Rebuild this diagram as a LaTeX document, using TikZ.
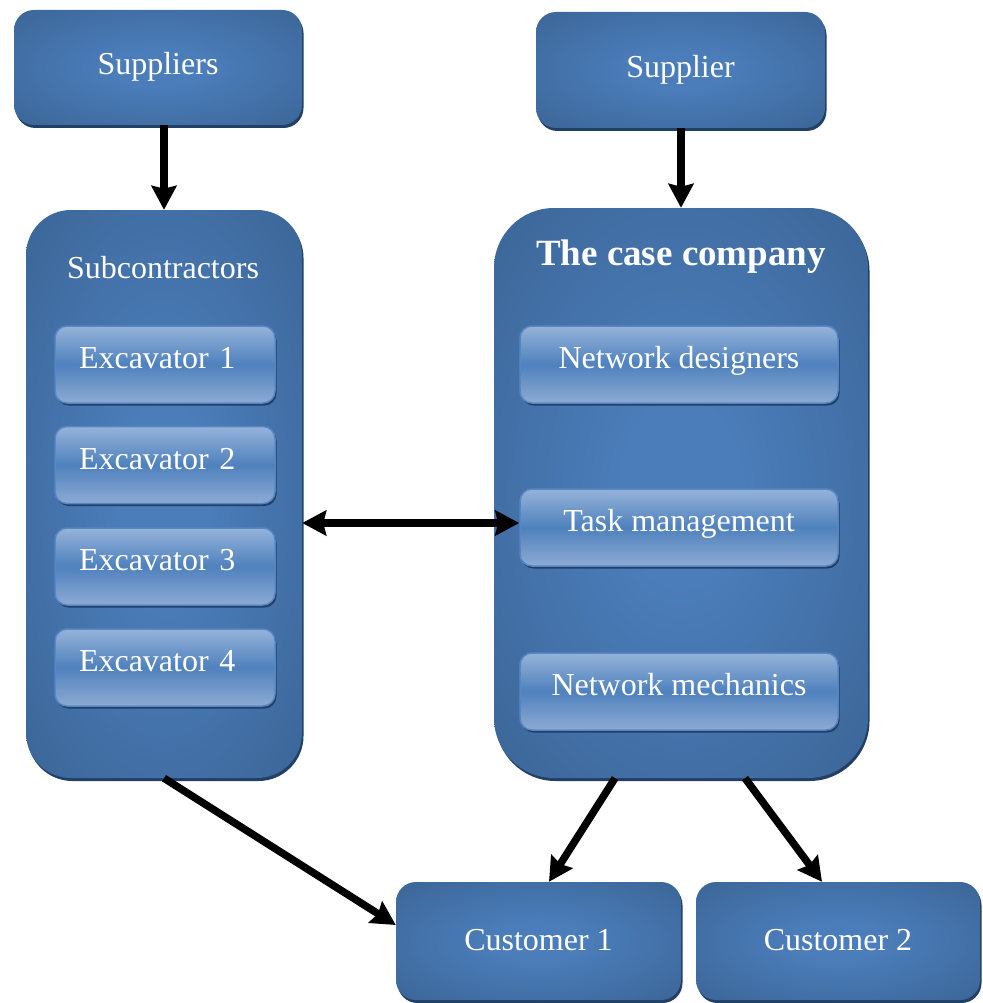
\documentclass[tikz,border=0pt]{standalone}
\usepackage{fontspec}
\setmainfont{Liberation Serif}
\usetikzlibrary{arrows.meta,shadows}

\definecolor{glowin}{HTML}{4B7DBA}
\definecolor{glowout}{HTML}{38608F}
\definecolor{boxshade}{HTML}{223F66}
\definecolor{tabtop}{HTML}{95B3DA}
\definecolor{tabmid}{HTML}{4F81BD}
\definecolor{tabbot}{HTML}{8DABD4}
\definecolor{tabedge}{HTML}{5687C4}

\pgfdeclareradialshading{boxglow}{\pgfpoint{0bp}{0bp}}{%
  color(0bp)=(glowin); color(8bp)=(glowin); color(42bp)=(glowout); color(50bp)=(glowout)}

\tikzset{
  unit/.style={rounded corners=#1, shading=boxglow, draw=none,
    drop shadow={shadow xshift=1.5pt, shadow yshift=-3pt, fill=boxshade, opacity=1},
    text=white, font=\fontsize{32}{38}\selectfont, inner sep=0pt,
    text height=22pt, text depth=7pt},
  unit/.default=20pt,
  tab/.style={rounded corners=12pt, top color=tabtop, bottom color=tabbot, middle color=tabmid,
    draw=tabedge, line width=1.5pt,
    drop shadow={shadow xshift=1.5pt, shadow yshift=-2.5pt, fill=boxshade, opacity=1},
    text=white, font=\fontsize{32}{38}\selectfont, inner sep=0pt,
    text height=18pt, text depth=10pt, minimum height=77pt},
  title/.style={text=white, inner sep=0pt},
  tip/.tip={Stealth[length=24pt, width=25pt, inset=3pt]},
  flow/.style={line width=7.5pt, -tip},
  both/.style={line width=7.5pt, tip-tip}
}

\begin{document}
\begin{tikzpicture}[x=1pt, y=-1pt]
\useasboundingbox (0,0) rectangle (982,1003);

% top row
\node[unit, minimum width=288pt, minimum height=115pt] (suppliers) at (158,67.5) {Suppliers};
\node[unit, minimum width=289pt, minimum height=116pt] (supplier) at (680.5,70) {Supplier};

% the two large groups
\node[unit=45pt, minimum width=276pt, minimum height=568pt] (sub) at (164,494) {};
\node[unit=60pt, minimum width=374pt, minimum height=570pt] (case) at (681,493) {};

\node[title, font=\fontsize{32}{38}\selectfont] (subtitle) at (163,268) {Subcontractors};
\node[title, font=\fontsize{37}{42}\selectfont\bfseries] (casetitle) at (681,257) {The case company};

% excavators, text set from the left
\foreach \i/\y in {1/364.5, 2/465, 3/566.5, 4/667.5}{
  \node[tab, minimum width=220pt, text width=172pt, align=left, inner xsep=24pt] (ex\i) at (165,\y) {Excavator \i};
}

% teams of the case company
\node[tab, minimum width=318pt] (designers) at (679,364.5) {Network designers};
\node[tab, minimum width=318pt] (task) at (679,527.5) {Task management};
\node[tab, minimum width=318pt] (mechanics) at (679,691.5) {Network mechanics};

% customers
\node[unit, minimum width=285pt, minimum height=118pt, text depth=3pt] (cust1) at (538.5,941) {Customer 1};
\node[unit, minimum width=284pt, minimum height=118pt, text depth=3pt] (cust2) at (838,941) {Customer 2};

% connectors
\draw[flow] (suppliers.south -| sub.north) -- (sub.north);
\draw[flow] (supplier.south -| case.north) -- (case.north);
\draw[both] ([yshift=4.5pt]sub.east |- task.west) -- ([yshift=4.5pt]task.west);
\draw[flow] (sub.south) -- ([yshift=16pt]cust1.west);
\draw[flow] ([xshift=-66pt]case.south) -- ([xshift=10.5pt]cust1.north);
\draw[flow] ([xshift=64pt]case.south) -- ([xshift=-16pt]cust2.north);
\end{tikzpicture}
\end{document}
